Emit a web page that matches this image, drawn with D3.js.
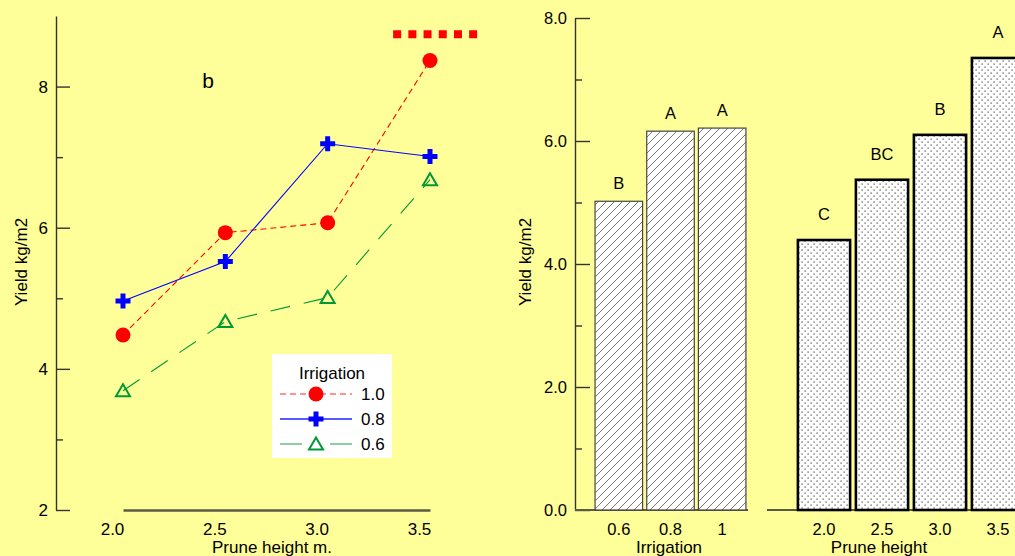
<!DOCTYPE html>
<html>
<head>
<meta charset="utf-8">
<script src="https://cdn.jsdelivr.net/npm/d3@7"></script>
<style>
  body { margin: 0; background: #ffff99; }
  svg { display: block; font-family: "Liberation Sans", Arial, sans-serif; }
</style>
</head>
<body>
<div id="chart"></div>
<script>
// ---- data ----
const pruneHeights = [2.0, 2.5, 3.0, 3.5]
const irr10 = [4.48, 5.93, 6.07, 8.37]
const irr08 = [4.96, 5.52, 7.19, 7.01]
const irr06 = [3.69, 4.67, 5.01, 6.68]
const lsdX = [3.32, 3.73]   // red dotted bar at the top
const lsdY = 8.74

const irrLevels = ["0.6", "0.8", "1"]
const irrYield = [5.02, 6.16, 6.21]
const irrLetters = ["B", "A", "A"]

const pruneLabels = ["2.0", "2.5", "3.0", "3.5"]
const pruneYield = [4.39, 5.37, 6.10, 7.35]
const pruneLetters = ["C", "BC", "B", "A"]

const W = 1015, H = 556
const svg = d3.select("#chart").append("svg")
  .attr("width", W).attr("height", H)

// patterns
const defs = svg.append("defs")
const hatch = defs.append("pattern")
  .attr("id", "hatch").attr("patternUnits", "userSpaceOnUse")
  .attr("width", 8).attr("height", 8)
hatch.append("rect").attr("width", 8).attr("height", 8).attr("fill", "#fff")
hatch.append("path")
  .attr("d", "M0,8 L8,0 M-2,2 L2,-2 M6,10 L10,6")
  .attr("stroke", "#555").attr("stroke-width", 0.8)

const dots = defs.append("pattern")
  .attr("id", "dots").attr("patternUnits", "userSpaceOnUse")
  .attr("width", 6).attr("height", 6)
dots.append("rect").attr("width", 6).attr("height", 6).attr("fill", "#fff")
dots.append("rect").attr("x", 0.5).attr("y", 0.5).attr("width", 1.2).attr("height", 1.2).attr("fill", "#444")
dots.append("rect").attr("x", 3.5).attr("y", 3.5).attr("width", 1.2).attr("height", 1.2).attr("fill", "#444")

// ================= left: line chart =================
const xL = d3.scaleLinear().domain([2.0, 3.5]).range([123, 430])
const yL = d3.scaleLinear().domain([2, 9]).range([510, 16])

const styleAxis = (g, size) => {
  g.attr("font-size", size).attr("font-family", "Liberation Sans, Arial, sans-serif")
  g.selectAll("text").attr("fill", "#000")
}

// y axis
svg.append("g")
  .attr("transform", "translate(56,0)")
  .call(d3.axisLeft(yL).tickValues([2, 4, 6, 8]).tickSize(-14).tickSizeOuter(0)
    .tickPadding(8).tickFormat(d3.format("d")))
  .call(g => styleAxis(g, 17))
  .call(g => g.selectAll("line, path").attr("stroke", "#333").attr("stroke-width", 1.4))

svg.append("g")
  .attr("transform", "translate(56,0)")
  .call(d3.axisLeft(yL).tickValues([3, 5, 7]).tickSize(-7).tickFormat(""))
  .call(g => g.select(".domain").remove())
  .call(g => g.selectAll("line").attr("stroke", "#333").attr("stroke-width", 1.4))

// x axis
svg.append("g")
  .attr("transform", "translate(0,510)")
  .call(d3.axisBottom(xL).tickValues(pruneHeights).tickSize(0).tickSizeOuter(0)
    .tickPadding(13).tickFormat(d3.format(".1f")))
  .call(g => styleAxis(g, 17))
  .call(g => g.select(".domain").attr("stroke", "#5a5a48").attr("stroke-width", 2.5))
  .call(g => g.selectAll(".tick text").attr("dx", -11))

svg.append("text")
  .attr("x", 272).attr("y", 553).attr("text-anchor", "middle")
  .attr("font-size", 17).text("Prune height m.")

svg.append("text")
  .attr("transform", "translate(27,262) rotate(-90)")
  .attr("text-anchor", "middle").attr("font-size", 17).text("Yield kg/m2")

svg.append("text")
  .attr("x", 208).attr("y", 88).attr("text-anchor", "middle")
  .attr("font-size", 21).text("b")

// lsd bar
svg.append("line")
  .attr("x1", xL(lsdX[0])).attr("x2", xL(lsdX[1]))
  .attr("y1", yL(lsdY)).attr("y2", yL(lsdY))
  .attr("stroke", "#ff0000").attr("stroke-width", 8)
  .attr("stroke-dasharray", "8,7.2")

const plusPath = "M-7.5,-2.5H-2.5V-7.5H2.5V-2.5H7.5V2.5H2.5V7.5H-2.5V2.5H-7.5Z"
const triPath = "M0,-6.5L7,5.5L-7,5.5Z"

const series = [
  { name: "1.0", values: irr10, color: "#ff0000", dash: "6,4", width: 1.1, legendColor: "#ff7070", marker: "circle" },
  { name: "0.8", values: irr08, color: "#0000ff", dash: null, width: 1.1, legendColor: "#2020ff", marker: "plus" },
  { name: "0.6", values: irr06, color: "#009933", dash: "20,14", width: 1.1, legendColor: "#66c080", marker: "tri" }
]

const line = d3.line()
  .x((d, i) => xL(pruneHeights[i]))
  .y(d => yL(d))

const drawMarker = (g, s) => {
  if (s.marker === "circle") {
    g.append("circle").attr("r", 7.5).attr("fill", s.color)
  } else if (s.marker === "plus") {
    g.append("path").attr("d", plusPath).attr("fill", s.color)
  } else {
    g.append("path").attr("d", triPath).attr("fill", "none")
      .attr("stroke", s.color).attr("stroke-width", 2)
  }
}

series.forEach(s => {
  svg.append("path")
    .datum(s.values)
    .attr("d", line)
    .attr("fill", "none")
    .attr("stroke", s.color)
    .attr("stroke-width", s.width)
    .attr("stroke-dasharray", s.dash)
})

series.forEach(s => {
  s.values.forEach((v, i) => {
    const g = svg.append("g")
      .attr("transform", "translate(" + xL(pruneHeights[i]) + "," + yL(v) + ")")
    drawMarker(g, s)
  })
})

// legend
const leg = svg.append("g")
leg.append("rect").attr("x", 272).attr("y", 354).attr("width", 120).attr("height", 104).attr("fill", "#fff")
leg.append("text").attr("x", 332).attr("y", 379).attr("text-anchor", "middle")
  .attr("font-size", 17).text("Irrigation")
series.forEach((s, i) => {
  const yy = 394 + i * 25
  leg.append("line").attr("x1", 280).attr("x2", 352).attr("y1", yy).attr("y2", yy)
    .attr("stroke", s.legendColor).attr("stroke-width", 1.5)
    .attr("stroke-dasharray", s.marker === "circle" ? "6,4" : (s.marker === "tri" ? "22,50" : null))
  if (s.marker === "tri") {
    leg.append("line").attr("x1", 330).attr("x2", 352).attr("y1", yy).attr("y2", yy)
      .attr("stroke", s.legendColor).attr("stroke-width", 1.5)
  }
  const g = leg.append("g").attr("transform", "translate(316," + yy + ")")
  drawMarker(g, s)
  leg.append("text").attr("x", 361).attr("y", yy).attr("dy", "0.35em")
    .attr("font-size", 17).text(s.name)
})

// ================= right: bar charts =================
const yR = d3.scaleLinear().domain([0, 8]).range([510, 18])
const xIrr = d3.scaleBand().domain(irrLevels).range([593, 748]).paddingInner(0.08).paddingOuter(0.04)
const xPr = d3.scaleBand().domain(pruneLabels).range([795, 1027]).paddingInner(0.1).paddingOuter(0.05)

svg.append("g")
  .attr("transform", "translate(575,0)")
  .call(d3.axisLeft(yR).tickValues([0, 2, 4, 6, 8]).tickSize(-15).tickSizeOuter(0)
    .tickPadding(8).tickFormat(d3.format(".1f")))
  .call(g => styleAxis(g, 16.5))
  .call(g => g.selectAll("line, path").attr("stroke", "#333").attr("stroke-width", 1.4))

svg.append("g")
  .attr("transform", "translate(575,0)")
  .call(d3.axisLeft(yR).tickValues([1, 3, 5, 7]).tickSize(-7).tickFormat(""))
  .call(g => g.select(".domain").remove())
  .call(g => g.selectAll("line").attr("stroke", "#333").attr("stroke-width", 1.4))

// baselines
svg.append("line").attr("x1", 575).attr("x2", xIrr.range()[1])
  .attr("y1", yR(0)).attr("y2", yR(0)).attr("stroke", "#5a5a48").attr("stroke-width", 2)
svg.append("line").attr("x1", 767).attr("x2", W)
  .attr("y1", yR(0)).attr("y2", yR(0)).attr("stroke", "#5a5a48").attr("stroke-width", 2)

// irrigation bars
svg.selectAll(".barIrr")
  .data(irrYield)
  .enter().append("rect")
  .attr("class", "barIrr")
  .attr("x", (d, i) => xIrr(irrLevels[i]))
  .attr("width", xIrr.bandwidth())
  .attr("y", d => yR(d))
  .attr("height", d => yR(0) - yR(d))
  .attr("fill", "url(#hatch)")
  .attr("stroke", "#444").attr("stroke-width", 1.2)

svg.selectAll(".letIrr")
  .data(irrYield)
  .enter().append("text")
  .attr("x", (d, i) => xIrr(irrLevels[i]) + xIrr.bandwidth() / 2)
  .attr("y", d => yR(d) - 12)
  .attr("text-anchor", "middle").attr("font-size", 16.5)
  .text((d, i) => irrLetters[i])

// prune bars
svg.selectAll(".barPr")
  .data(pruneYield)
  .enter().append("rect")
  .attr("class", "barPr")
  .attr("x", (d, i) => xPr(pruneLabels[i]))
  .attr("width", xPr.bandwidth())
  .attr("y", d => yR(d))
  .attr("height", d => yR(0) - yR(d))
  .attr("fill", "url(#dots)")
  .attr("stroke", "#000").attr("stroke-width", 2.6)

svg.selectAll(".letPr")
  .data(pruneYield)
  .enter().append("text")
  .attr("x", (d, i) => xPr(pruneLabels[i]) + xPr.bandwidth() / 2)
  .attr("y", d => yR(d) - 20)
  .attr("text-anchor", "middle").attr("font-size", 16.5)
  .text((d, i) => pruneLetters[i])

// category labels
svg.append("g")
  .attr("transform", "translate(0,510)")
  .call(d3.axisBottom(xIrr).tickSize(0).tickPadding(13))
  .call(g => g.select(".domain").remove())
  .call(g => styleAxis(g, 16.5))

svg.append("g")
  .attr("transform", "translate(0,510)")
  .call(d3.axisBottom(xPr).tickSize(0).tickPadding(13))
  .call(g => g.select(".domain").remove())
  .call(g => styleAxis(g, 16.5))

svg.append("text").attr("x", 669).attr("y", 553).attr("text-anchor", "middle")
  .attr("font-size", 17).text("Irrigation")
svg.append("text").attr("x", 879).attr("y", 553).attr("text-anchor", "middle")
  .attr("font-size", 17).text("Prune height")

svg.append("text")
  .attr("transform", "translate(531,262) rotate(-90)")
  .attr("text-anchor", "middle").attr("font-size", 17).text("Yield kg/m2")
</script>
</body>
</html>
